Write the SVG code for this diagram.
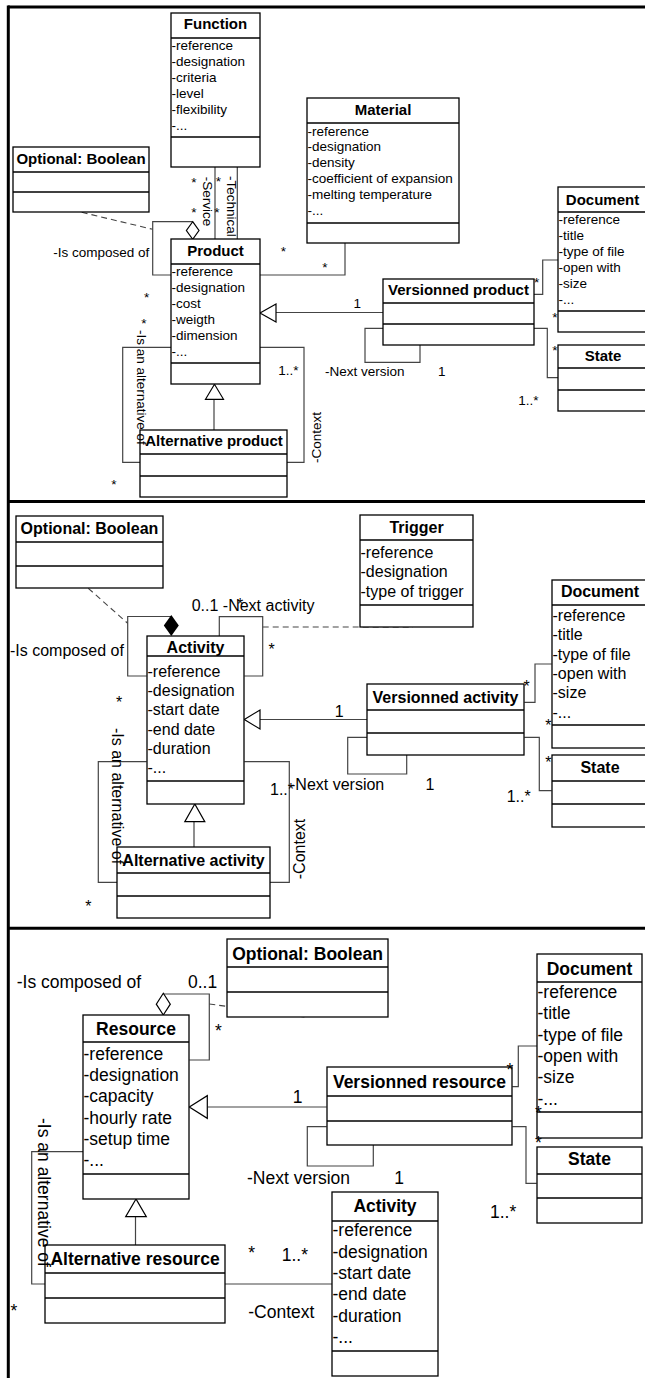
<svg xmlns="http://www.w3.org/2000/svg" width="645" height="1378" viewBox="0 0 645 1378">
<style>
.bx{fill:#fff;stroke:#000;stroke-width:1.3}
.dv{stroke:#000;stroke-width:1.3}
.cn{fill:none;stroke:#444;stroke-width:1.2}
.ds{fill:none;stroke:#444;stroke-width:1.1;stroke-dasharray:6,4}
.tri{fill:#fff;stroke:#000;stroke-width:1.2}
.fr{stroke:#000;stroke-width:3}
text{font-family:"Liberation Sans",Arial,sans-serif;fill:#000}
.p1t{font-size:15px;font-weight:bold;text-anchor:middle}
.p1a{font-size:13.5px}
.p2t{font-size:16px;font-weight:bold;text-anchor:middle}
.p2a{font-size:16px}
.p3t{font-size:17.5px;font-weight:bold;text-anchor:middle}
.p3a{font-size:17.5px}
.m{text-anchor:middle}
</style>

<g id="frame">
<line class="fr" x1="8" y1="7" x2="645" y2="7"/>
<line class="fr" x1="8.3" y1="5.5" x2="8.3" y2="1378"/>
<line class="fr" x1="8" y1="501.5" x2="645" y2="501.5"/>
<line class="fr" x1="8" y1="928.3" x2="645" y2="928.3"/>
</g>

<g id="connectors">
<!-- panel 1 -->
<polyline class="cn" points="192.7,221.7 152.7,221.7 152.7,275 171,275"/>
<line class="ds" x1="81.7" y1="212.3" x2="152.7" y2="229.3"/>
<line class="cn" x1="215" y1="167" x2="215" y2="239"/>
<line class="cn" x1="237.3" y1="167" x2="237.3" y2="239"/>
<polyline class="cn" points="345,243 345,275 260,275"/>
<line class="cn" x1="276" y1="312.5" x2="383" y2="312.5"/>
<polygon class="tri" points="260,313 276,304 276,322"/>
<polyline class="cn" points="383,328.3 365,328.3 365,362.3 420,362.3 420,345"/>
<polyline class="cn" points="534,294.3 542.7,294.3 542.7,260 558,260"/>
<polyline class="cn" points="534,328.3 547.3,328.3 547.3,377.7 558,377.7"/>
<line class="cn" x1="214" y1="430" x2="214" y2="399.3"/>
<polygon class="tri" points="214.5,384.3 205.5,399.3 223.5,399.3"/>
<polyline class="cn" points="171,347.3 122.7,347.3 122.7,462.3 140,462.3"/>
<polyline class="cn" points="260,347.3 304,347.3 304,462.3 287,462.3"/>
<polygon class="tri" points="192.7,221.7 199,230.5 192.7,239.3 186.4,230.5"/>
<!-- panel 2 -->
<polyline class="cn" points="171.3,616.5 127.7,616.5 127.7,676 146.7,676"/>
<line class="ds" x1="88.3" y1="588.3" x2="127.7" y2="623.3"/>
<polygon points="171.3,615 178.8,625.5 171.3,636 163.8,625.5" fill="#000"/>
<polyline class="cn" points="219.3,636 219.3,616.7 262.7,616.7 262.7,676 244.3,676"/>
<line class="ds" x1="262.7" y1="627" x2="413" y2="627"/>
<line class="cn" x1="260" y1="719.5" x2="367" y2="719.5"/>
<polygon class="tri" points="244.3,719.5 260,710 260,729"/>
<polyline class="cn" points="367,737.3 347.7,737.3 347.7,774 406.7,774 406.7,755"/>
<polyline class="cn" points="524.3,702.3 535,702.3 535,664 551.7,664"/>
<polyline class="cn" points="524.3,737.3 539.3,737.3 539.3,790.7 551.7,790.7"/>
<line class="cn" x1="194" y1="847" x2="194" y2="821.7"/>
<polygon class="tri" points="194.8,804 184.8,821.7 204.8,821.7"/>
<polyline class="cn" points="146.7,761.7 98.3,761.7 98.3,882.3 117.3,882.3"/>
<polyline class="cn" points="244.3,761.7 289.3,761.7 289.3,882.3 270,882.3"/>
<!-- panel 3 -->
<polyline class="cn" points="163.3,994 209.3,994 209.3,1060 189.3,1060"/>
<polygon class="tri" points="163.3,993.3 170.3,1004.2 163.3,1015 156.3,1004.2"/>
<line class="ds" x1="209.3" y1="1004" x2="306.7" y2="1017.3"/>
<line class="cn" x1="207.3" y1="1107" x2="326.7" y2="1107"/>
<polygon class="tri" points="189.3,1107 207.3,1095.7 207.3,1118.3"/>
<polyline class="cn" points="326.7,1126.7 307.3,1126.7 307.3,1166 373.3,1166 373.3,1145"/>
<polyline class="cn" points="512.3,1086.7 518.3,1086.7 518.3,1046 537.3,1046"/>
<polyline class="cn" points="512.3,1126.7 526,1126.7 526,1183.3 536.7,1183.3"/>
<line class="cn" x1="135.5" y1="1245" x2="135.5" y2="1216.7"/>
<polygon class="tri" points="136,1199 125.7,1216.7 146.3,1216.7"/>
<polyline class="cn" points="83,1151.7 31.7,1151.7 31.7,1284 45,1284"/>
<line class="cn" x1="225" y1="1284" x2="332.3" y2="1284"/>
</g>

<!-- ================= PANEL 1 NODES ================= -->
<g id="function1">
<rect class="bx" x="171" y="13" width="89" height="154"/>
<line class="dv" x1="171" y1="38" x2="260" y2="38"/>
<line class="dv" x1="171" y1="137" x2="260" y2="137"/>
<text class="p1t" x="215.5" y="29.4">Function</text>
<text class="p1a" x="171.5" y="49.6">-reference</text>
<text class="p1a" x="171.5" y="65.6">-designation</text>
<text class="p1a" x="171.5" y="81.6">-criteria</text>
<text class="p1a" x="171.5" y="97.6">-level</text>
<text class="p1a" x="171.5" y="113.6">-flexibility</text>
<text class="p1a" x="171.5" y="129.6">-...</text>
</g>
<g id="optional1">
<rect class="bx" x="13" y="147" width="136" height="65"/>
<line class="dv" x1="13" y1="172" x2="149" y2="172"/>
<line class="dv" x1="13" y1="192" x2="149" y2="192"/>
<text class="p1t" x="81" y="163.7">Optional: Boolean</text>
</g>
<g id="material1">
<rect class="bx" x="307" y="98" width="152" height="145"/>
<line class="dv" x1="307" y1="123" x2="459" y2="123"/>
<line class="dv" x1="307" y1="223" x2="459" y2="223"/>
<text class="p1t" x="383" y="115.4">Material</text>
<text class="p1a" x="307.5" y="135.5">-reference</text>
<text class="p1a" x="307.5" y="151.3">-designation</text>
<text class="p1a" x="307.5" y="167.1">-density</text>
<text class="p1a" x="307.5" y="182.9">-coefficient of expansion</text>
<text class="p1a" x="307.5" y="198.7">-melting temperature</text>
<text class="p1a" x="307.5" y="214.5">-...</text>
</g>
<g id="product1">
<rect class="bx" x="171" y="239" width="89" height="145"/>
<line class="dv" x1="171" y1="264" x2="260" y2="264"/>
<line class="dv" x1="171" y1="363" x2="260" y2="363"/>
<text class="p1t" x="215.5" y="256">Product</text>
<text class="p1a" x="171.5" y="276">-reference</text>
<text class="p1a" x="171.5" y="292">-designation</text>
<text class="p1a" x="171.5" y="308">-cost</text>
<text class="p1a" x="171.5" y="324">-weigth</text>
<text class="p1a" x="171.5" y="340">-dimension</text>
<text class="p1a" x="171.5" y="356">-...</text>
</g>
<g id="document1">
<rect class="bx" x="558" y="187" width="89" height="145"/>
<line class="dv" x1="558" y1="212" x2="647" y2="212"/>
<line class="dv" x1="558" y1="311" x2="647" y2="311"/>
<text class="p1t" x="602.5" y="205">Document</text>
<text class="p1a" x="558.5" y="223.6">-reference</text>
<text class="p1a" x="558.5" y="239.6">-title</text>
<text class="p1a" x="558.5" y="255.6">-type of file</text>
<text class="p1a" x="558.5" y="271.6">-open with</text>
<text class="p1a" x="558.5" y="287.6">-size</text>
<text class="p1a" x="558.5" y="303.6">-...</text>
</g>
<g id="versionned-product">
<rect class="bx" x="383" y="279" width="151" height="66"/>
<line class="dv" x1="383" y1="303" x2="534" y2="303"/>
<line class="dv" x1="383" y1="324" x2="534" y2="324"/>
<text class="p1t" x="458.5" y="295.4">Versionned product</text>
</g>
<g id="state1">
<rect class="bx" x="558" y="345" width="89" height="66"/>
<line class="dv" x1="558" y1="368" x2="647" y2="368"/>
<line class="dv" x1="558" y1="390" x2="647" y2="390"/>
<text class="p1t" x="603" y="361.4">State</text>
</g>
<g id="alternative-product">
<rect class="bx" x="140" y="430" width="147" height="67"/>
<line class="dv" x1="140" y1="454" x2="287" y2="454"/>
<line class="dv" x1="140" y1="476" x2="287" y2="476"/>
<text class="p1t" x="214" y="446.4">Alternative product</text>
</g>

<!-- ================= PANEL 2 NODES ================= -->
<g id="optional2">
<rect class="bx" x="16" y="516" width="147" height="72"/>
<line class="dv" x1="16" y1="542" x2="163" y2="542"/>
<line class="dv" x1="16" y1="566" x2="163" y2="566"/>
<text class="p2t" x="89.5" y="534">Optional: Boolean</text>
</g>
<g id="trigger">
<rect class="bx" x="360" y="515" width="113" height="112"/>
<line class="dv" x1="360" y1="540" x2="473" y2="540"/>
<line class="dv" x1="360" y1="605" x2="473" y2="605"/>
<text class="p2t" x="416.5" y="533">Trigger</text>
<text class="p2a" x="360.5" y="557.6">-reference</text>
<text class="p2a" x="360.5" y="577.3">-designation</text>
<text class="p2a" x="360.5" y="597">-type of trigger</text>
</g>
<g id="activity2">
<rect class="bx" x="147" y="636" width="97" height="168"/>
<line class="dv" x1="147" y1="656" x2="244" y2="656"/>
<line class="dv" x1="147" y1="781" x2="244" y2="781"/>
<text class="p2t" x="195.5" y="653">Activity</text>
<text class="p2a" x="147.5" y="676.6">-reference</text>
<text class="p2a" x="147.5" y="695.9">-designation</text>
<text class="p2a" x="147.5" y="715.2">-start date</text>
<text class="p2a" x="147.5" y="734.5">-end date</text>
<text class="p2a" x="147.5" y="753.8">-duration</text>
<text class="p2a" x="147.5" y="773.1">-...</text>
</g>
<g id="document2">
<rect class="bx" x="552" y="580" width="96" height="168"/>
<line class="dv" x1="552" y1="605" x2="648" y2="605"/>
<line class="dv" x1="552" y1="725" x2="648" y2="725"/>
<text class="p2t" x="600" y="597">Document</text>
<text class="p2a" x="552.5" y="621">-reference</text>
<text class="p2a" x="552.5" y="640.3">-title</text>
<text class="p2a" x="552.5" y="659.6">-type of file</text>
<text class="p2a" x="552.5" y="678.9">-open with</text>
<text class="p2a" x="552.5" y="698.2">-size</text>
<text class="p2a" x="552.5" y="717.5">-...</text>
</g>
<g id="versionned-activity">
<rect class="bx" x="367" y="684" width="157" height="71"/>
<line class="dv" x1="367" y1="710" x2="524" y2="710"/>
<line class="dv" x1="367" y1="733" x2="524" y2="733"/>
<text class="p2t" x="445.5" y="702.5">Versionned activity</text>
</g>
<g id="state2">
<rect class="bx" x="552" y="755" width="96" height="72"/>
<line class="dv" x1="552" y1="781" x2="648" y2="781"/>
<line class="dv" x1="552" y1="804" x2="648" y2="804"/>
<text class="p2t" x="600" y="772.5">State</text>
</g>
<g id="alternative-activity">
<rect class="bx" x="117" y="847" width="153" height="71"/>
<line class="dv" x1="117" y1="873" x2="270" y2="873"/>
<line class="dv" x1="117" y1="896" x2="270" y2="896"/>
<text class="p2t" x="193.5" y="865.8">Alternative activity</text>
</g>

<!-- ================= PANEL 3 NODES ================= -->
<g id="optional3">
<rect class="bx" x="227" y="939" width="161" height="78"/>
<line class="dv" x1="227" y1="967" x2="388" y2="967"/>
<line class="dv" x1="227" y1="992" x2="388" y2="992"/>
<text class="p3t" x="307.5" y="960.3">Optional: Boolean</text>
</g>
<g id="resource">
<rect class="bx" x="83" y="1015" width="106" height="184"/>
<line class="dv" x1="83" y1="1042" x2="189" y2="1042"/>
<line class="dv" x1="83" y1="1174" x2="189" y2="1174"/>
<text class="p3t" x="136" y="1034.6">Resource</text>
<text class="p3a" x="83.5" y="1059.7">-reference</text>
<text class="p3a" x="83.5" y="1081">-designation</text>
<text class="p3a" x="83.5" y="1102.3">-capacity</text>
<text class="p3a" x="83.5" y="1123.6">-hourly rate</text>
<text class="p3a" x="83.5" y="1144.9">-setup time</text>
<text class="p3a" x="83.5" y="1166.2">-...</text>
</g>
<g id="document3">
<rect class="bx" x="537" y="954" width="105" height="184"/>
<line class="dv" x1="537" y1="982" x2="642" y2="982"/>
<line class="dv" x1="537" y1="1112" x2="642" y2="1112"/>
<text class="p3t" x="589.5" y="974.6">Document</text>
<text class="p3a" x="537.5" y="998">-reference</text>
<text class="p3a" x="537.5" y="1019.3">-title</text>
<text class="p3a" x="537.5" y="1040.6">-type of file</text>
<text class="p3a" x="537.5" y="1061.9">-open with</text>
<text class="p3a" x="537.5" y="1083.2">-size</text>
<text class="p3a" x="537.5" y="1104.5">-...</text>
</g>
<g id="versionned-resource">
<rect class="bx" x="327" y="1067" width="185" height="78"/>
<line class="dv" x1="327" y1="1096" x2="512" y2="1096"/>
<line class="dv" x1="327" y1="1121" x2="512" y2="1121"/>
<text class="p3t" x="419.5" y="1088">Versionned resource</text>
</g>
<g id="state3">
<rect class="bx" x="537" y="1147" width="105" height="76"/>
<line class="dv" x1="537" y1="1174" x2="642" y2="1174"/>
<line class="dv" x1="537" y1="1198" x2="642" y2="1198"/>
<text class="p3t" x="589.5" y="1164.6">State</text>
</g>
<g id="alternative-resource">
<rect class="bx" x="45" y="1245" width="180" height="78"/>
<line class="dv" x1="45" y1="1273" x2="225" y2="1273"/>
<line class="dv" x1="45" y1="1298" x2="225" y2="1298"/>
<text class="p3t" x="135" y="1264.6">Alternative resource</text>
</g>
<g id="activity3">
<rect class="bx" x="332" y="1192" width="106" height="184"/>
<line class="dv" x1="332" y1="1221" x2="438" y2="1221"/>
<line class="dv" x1="332" y1="1351" x2="438" y2="1351"/>
<text class="p3t" x="385" y="1212.3">Activity</text>
<text class="p3a" x="332.5" y="1236.4">-reference</text>
<text class="p3a" x="332.5" y="1257.7">-designation</text>
<text class="p3a" x="332.5" y="1279">-start date</text>
<text class="p3a" x="332.5" y="1300.3">-end date</text>
<text class="p3a" x="332.5" y="1321.6">-duration</text>
<text class="p3a" x="332.5" y="1342.9">-...</text>
</g>

<g id="labels">
<!-- panel 1 -->
<text class="p1a" x="53.3" y="257">-Is composed of</text>
<text class="p1a m" x="194" y="187">*</text>
<text class="p1a m" x="218.5" y="186">*</text>
<text class="p1a m" x="194" y="217">*</text>
<text class="p1a m" x="217" y="217">*</text>
<text class="p1a" transform="translate(202.7,176.7) rotate(90)">-Service</text>
<text class="p1a" transform="translate(226.7,176) rotate(90)">-Technical</text>
<text class="p1a m" x="283.3" y="256">*</text>
<text class="p1a m" x="325" y="272">*</text>
<text class="p1a m" x="146.7" y="302">*</text>
<text class="p1a m" x="144" y="327.5">*</text>
<text class="p1a m" x="114" y="489">*</text>
<text class="p1a" transform="translate(136.7,330) rotate(90)">-Is an alternative of</text>
<text class="p1a m" transform="translate(321,437.5) rotate(-90)">-Context</text>
<text class="p1a" x="278.3" y="374.5">1..*</text>
<text class="p1a m" x="357.3" y="308">1</text>
<text class="p1a" x="325" y="375.5">-Next version</text>
<text class="p1a m" x="441.7" y="375.5">1</text>
<text class="p1a m" x="536.7" y="287">*</text>
<text class="p1a m" x="555" y="322">*</text>
<text class="p1a m" x="555" y="355">*</text>
<text class="p1a" x="518.3" y="405">1..*</text>
<!-- panel 2 -->
<text class="p2a" x="10" y="656">-Is composed of</text>
<text class="p2a" x="191.7" y="610.5">0..1 -Next activity</text>
<text class="p2a m" x="240" y="610">*</text>
<text class="p2a m" x="271.7" y="655">*</text>
<text class="p2a m" x="119" y="708">*</text>
<text class="p2a m" x="88.3" y="911.5">*</text>
<text class="p2a" transform="translate(111.7,728) rotate(90)">-Is an alternative of</text>
<text class="p2a m" transform="translate(305,849) rotate(-90)">-Context</text>
<text class="p2a" x="270" y="795">1..*</text>
<text class="p2a" x="290" y="790">-Next version</text>
<text class="p2a m" x="430" y="790">1</text>
<text class="p2a m" x="339.3" y="717">1</text>
<text class="p2a m" x="526.7" y="692">*</text>
<text class="p2a m" x="548.3" y="731">*</text>
<text class="p2a m" x="548.3" y="767.5">*</text>
<text class="p2a" x="506.7" y="802">1..*</text>
<!-- panel 3 -->
<text class="p3a" x="16.7" y="988">-Is composed of</text>
<text class="p3a" x="188" y="988">0..1</text>
<text class="p3a m" x="218.3" y="1037">*</text>
<text class="p3a m" x="297.7" y="1103">1</text>
<text class="p3a" x="247" y="1184">-Next version</text>
<text class="p3a m" x="399" y="1184">1</text>
<text class="p3a m" x="510" y="1076">*</text>
<text class="p3a m" x="538.3" y="1119">*</text>
<text class="p3a m" x="538.3" y="1149">*</text>
<text class="p3a" x="490" y="1218">1..*</text>
<text class="p3a" transform="translate(38.3,1118) rotate(90)">-Is an alternative of</text>
<text class="p3a m" x="14" y="1317">*</text>
<text class="p3a m" x="251.7" y="1259">*</text>
<text class="p3a" x="281.7" y="1261">1..*</text>
<text class="p3a" x="248.3" y="1318">-Context</text>
</g>
</svg>
